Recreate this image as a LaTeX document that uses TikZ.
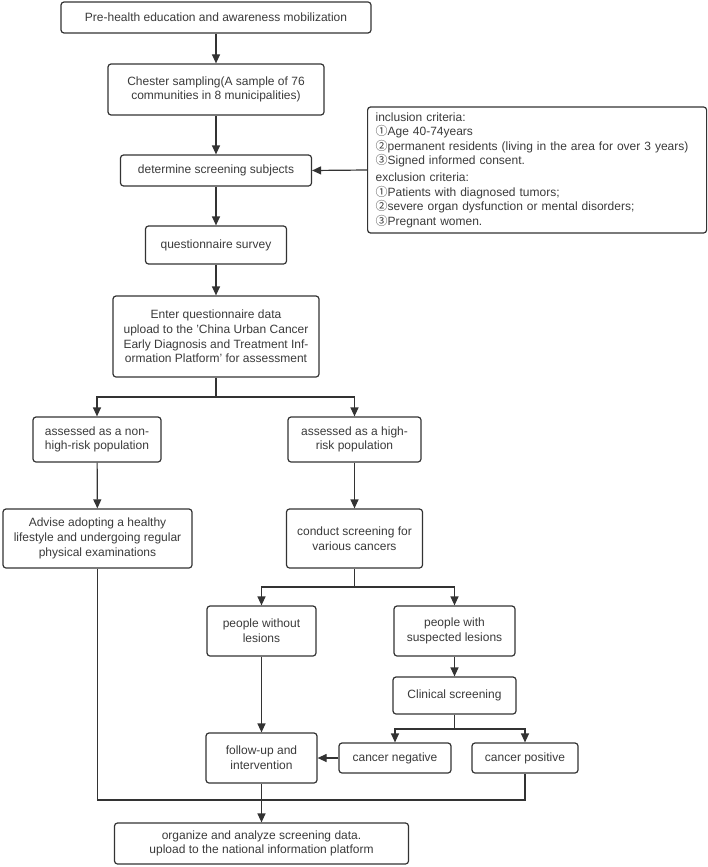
\documentclass[tikz,border=0pt]{standalone}
\usepackage{fontspec}
\setmainfont{Liberation Sans}
\newfontfamily\cjkf{Noto Sans CJK SC}
\usetikzlibrary{arrows.meta}
\definecolor{linec}{HTML}{333333}
\definecolor{textc}{HTML}{3A3A3A}
\tikzset{
  box/.style={draw=linec, line width=1.2pt, rounded corners=3pt, align=center,
    inner sep=0pt, text=textc, font=\fontsize{12}{14.7}\selectfont},
  conn/.style={draw=linec, line width=1.2pt},
  arr/.style={conn, -{Triangle[length=9pt,width=8pt]}}
}
\newcommand{\cn}[1]{\smash{\cjkf #1}}
\begin{document}
\begin{tikzpicture}[x=1pt,y=-1pt]
\useasboundingbox (0,0) rectangle (708,867);
\node[box, minimum width=310, minimum height=31] (pre) at (216,17.5) {Pre-health education and awareness mobilization};
\node[box, minimum width=216, minimum height=51] (chester) at (216,89.5) {Chester sampling(A sample of 76\\communities in 8 municipalities)};
\node[box, minimum width=191, minimum height=31] (det) at (216,170.5) {determine screening subjects};
\node[box, anchor=west, text width=323, inner xsep=8pt, minimum height=126, align=left, font=\fontsize{12}{14.5}\selectfont] (crit) at (367,170) {inclusion criteria:\\
\cn{①}Age 40-74years\\
\cn{②}permanent residents (living in the area for over 3 years)\\
\cn{③}Signed informed consent.\\[2.5pt]
exclusion criteria:\\
\cn{①}Patients with diagnosed tumors;\\
\cn{②}severe organ dysfunction or mental disorders;\\
\cn{③}Pregnant women.};
\node[box, minimum width=141, minimum height=38] (quest) at (216,245) {questionnaire survey};
\node[box, minimum width=206, minimum height=81] (enter) at (216,336.5) {Enter questionnaire data\\upload to the 'China Urban Cancer\\Early Diagnosis and Treatment Inf-\\ormation Platform' for assessment};
\node[box, minimum width=128, minimum height=45] (nonhigh) at (97,439.5) {assessed as a non-\\high-risk population};
\node[box, minimum width=133, minimum height=45] (high) at (354.5,439.5) {assessed as a high-\\risk population};
\node[box, minimum width=189, minimum height=59] (advise) at (97.5,538.5) {Advise adopting a healthy\\lifestyle and undergoing regular\\physical examinations};
\node[box, minimum width=136, minimum height=59] (conduct) at (354.5,538.5) {conduct screening for\\various cancers};
\node[box, minimum width=109, minimum height=50] (without) at (261.5,631) {people without\\lesions};
\node[box, minimum width=121, minimum height=50] (susp) at (454.5,631) {people with\\suspected lesions};
\node[box, minimum width=123, minimum height=37] (clin) at (454.5,695.5) {Clinical screening};
\node[box, minimum width=112, minimum height=30] (neg) at (395,758) {cancer negative};
\node[box, minimum width=106, minimum height=30] (pos) at (525,758) {cancer positive};
\node[box, minimum width=111, minimum height=50] (follow) at (261.5,758) {follow-up and\\intervention};
\node[box, minimum width=294, minimum height=41] (final) at (261.5,843.5) {organize and analyze screening data.\\upload to the national information platform};
\coordinate (j1) at (216,397);
\coordinate (j2) at (354.5,587);
\coordinate (j3) at (454.5,729);
\coordinate (j4) at (261.5,800);
\draw[arr] (pre) -- (chester);
\draw[arr] (chester) -- (det);
\draw[arr] (crit.west) -- (det.east);
\draw[arr] (det) -- (quest);
\draw[arr] (quest) -- (enter);
\draw[conn] (enter.south) -- (j1);
\draw[arr] (j1) -| (nonhigh.north);
\draw[arr] (j1) -| (high.north);
\draw[arr] (nonhigh) -- (advise);
\draw[arr] (high) -- (conduct);
\draw[conn] (conduct.south) -- (j2);
\draw[arr] (j2) -| (without.north);
\draw[arr] (j2) -| (susp.north);
\draw[arr] (susp) -- (clin);
\draw[conn] (clin.south) -- (j3);
\draw[arr] (j3) -| (neg.north);
\draw[arr] (j3) -| (pos.north);
\draw[arr] (neg.west) -- (follow.east);
\draw[arr] (without) -- (follow);
\draw[conn] (advise.south) |- (j4) -| (pos.south);
\draw[arr] (follow) -- (final);
\end{tikzpicture}
\end{document}
